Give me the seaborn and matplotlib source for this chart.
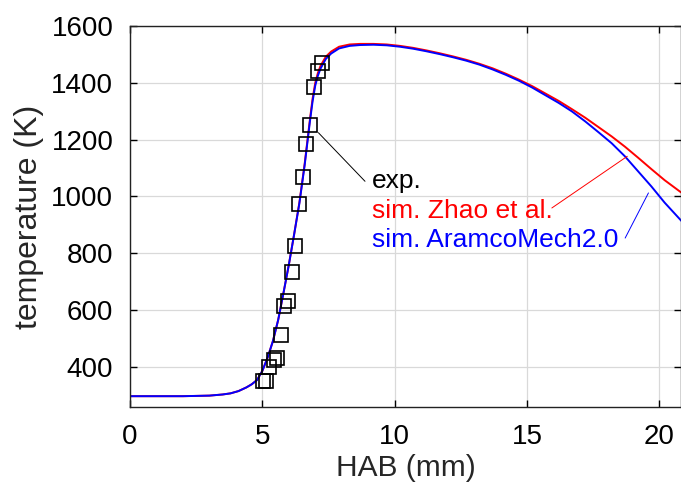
import numpy as np
import pandas as pd
import seaborn as sns
import matplotlib.pyplot as plt

# ----------------------------
# Data
# ----------------------------
hab_exp = [7.24, 7.09, 6.95, 6.80, 6.65, 6.53, 6.39, 6.24, 6.11, 5.96,
           5.83, 5.70, 5.54, 5.44, 5.26, 5.13, 5.04]
t_exp = [1468, 1441, 1386, 1251, 1183, 1069, 972, 824, 732, 633,
         615, 511, 432, 424, 400, 351, 351]

hab_sim = [0.0, 1.0, 2.0, 3.0, 3.5, 3.8, 4.1, 4.4, 4.6, 4.8,
           5.0, 5.2, 5.4, 5.6, 5.8, 6.0, 6.2, 6.4, 6.6, 6.8,
           6.9, 7.0, 7.1, 7.2, 7.4, 7.6, 7.9, 8.3, 8.7, 9.2,
           9.7, 10.2, 10.7, 11.2, 11.7, 12.2, 12.7, 13.2, 13.7, 14.2,
           14.7, 15.2, 15.7, 16.2, 16.7, 17.2, 17.7, 18.2, 18.7, 19.2,
           19.7, 20.2, 20.85]
t_aramco = [296, 296, 296, 298, 302, 306, 314, 327, 338, 353,
            385, 432, 490, 565, 660, 758, 865, 975, 1110, 1265,
            1335, 1390, 1425, 1450, 1484, 1503, 1521, 1530, 1533, 1534,
            1532, 1527, 1520, 1511, 1501, 1490, 1478, 1464, 1447, 1428,
            1407, 1383, 1356, 1329, 1299, 1264, 1226, 1187, 1141, 1088,
            1035, 978, 912]
t_zhao = [296, 296, 296, 298, 302, 306, 314, 327, 338, 353,
          385, 432, 490, 565, 660, 758, 865, 978, 1115, 1272,
          1345, 1400, 1435, 1460, 1492, 1510, 1527, 1535, 1537, 1537,
          1535, 1530, 1523, 1514, 1504, 1493, 1481, 1467, 1451, 1432,
          1411, 1388, 1362, 1336, 1307, 1277, 1244, 1211, 1175, 1136,
          1096, 1057, 1012]

labels = ["exp.", "sim. Zhao et al.", "sim. AramcoMech2.0"]

sim = pd.DataFrame({"hab": hab_sim, "zhao": t_zhao, "aramco": t_aramco})

# ----------------------------
# Style
# ----------------------------
sns.set_style("ticks")
plt.rcParams["font.family"] = ["Liberation Sans", "DejaVu Sans"]

fig = plt.figure(figsize=(6.81, 4.86), dpi=100)
ax = fig.add_axes([0.1909, 0.1626, 0.8091, 0.7839])

ax.grid(True, color="#d9d9d9", linewidth=0.9)
ax.set_axisbelow(True)

sns.lineplot(data=sim, x="hab", y="zhao", ax=ax, color="#ff0000",
             linewidth=1.4, sort=False, estimator=None)
sns.lineplot(data=sim, x="hab", y="aramco", ax=ax, color="#0000ff",
             linewidth=1.4, sort=False, estimator=None)
sns.lineplot(x=hab_exp, y=t_exp, ax=ax, marker="s", linestyle="",
             markersize=10, markerfacecolor="none", markeredgecolor="black",
             markeredgewidth=1.2, sort=False, estimator=None)

# ----------------------------
# Annotations
# ----------------------------
fs = 19
ax.text(9.13, 1030, labels[0], color="black", fontsize=fs)
ax.text(9.13, 924, labels[1], color="#ff0000", fontsize=fs)
ax.text(9.13, 821, labels[2], color="#0000ff", fontsize=fs)
ax.plot([7.12, 8.88], [1224, 1053], color="black", linewidth=0.7)
ax.plot([15.94, 18.79], [959, 1141], color="#ff0000", linewidth=0.7)
ax.plot([18.71, 19.59], [853, 1012], color="#0000ff", linewidth=0.7)

# ----------------------------
# Axes
# ----------------------------
ax.set_xlim(0, 20.82)
ax.set_ylim(258, 1600)
ax.set_xticks([0, 5, 10, 15, 20])
ax.set_yticks([400, 600, 800, 1000, 1200, 1400, 1600])
ax.tick_params(direction="in", length=5, width=1, top=True, right=True,
               labelsize=20, colors="black")
ax.tick_params(axis="x", pad=12)
ax.tick_params(axis="y", pad=12)
for sp in ax.spines.values():
    sp.set_color("#222222")
    sp.set_linewidth(1.0)

ax.set_xlabel("HAB (mm)", fontsize=21.5, labelpad=3)
ax.set_ylabel("temperature (K)", fontsize=23, labelpad=5)

fig.savefig("out.png", dpi=100)
plt.close(fig)
